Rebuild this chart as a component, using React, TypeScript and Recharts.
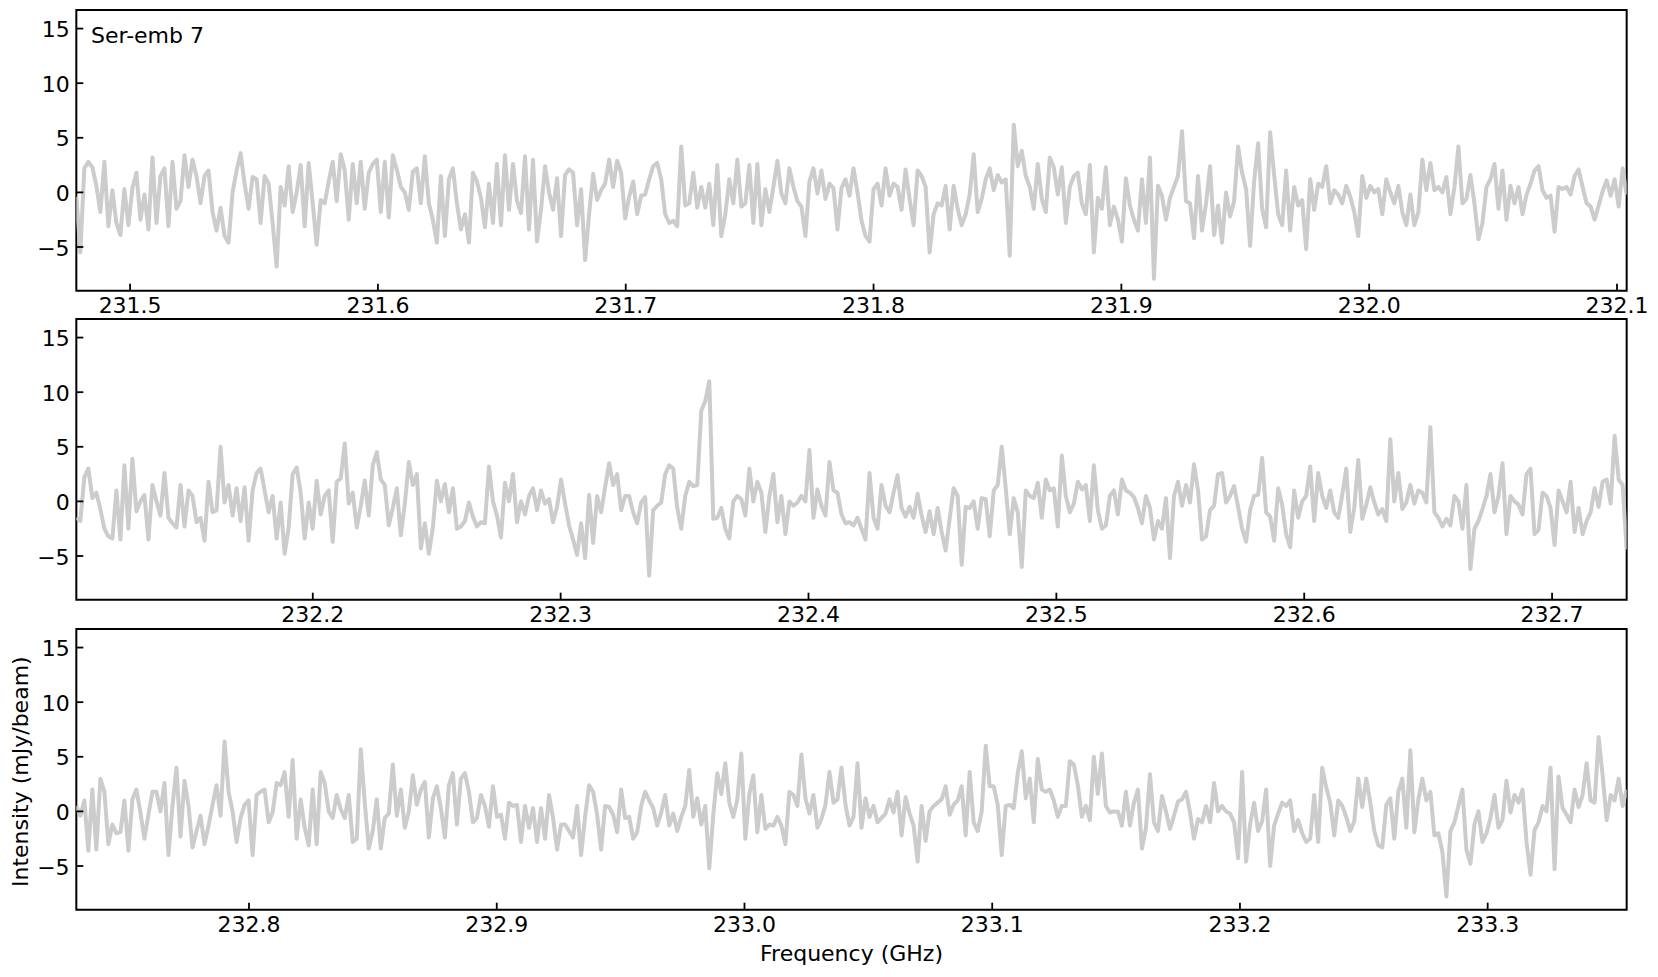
import React from 'react';
import { LineChart, Line, XAxis, YAxis, ReferenceArea } from 'recharts';

// Frequency ranges (GHz) of the three panels
const RANGE1 = [231.4783, 232.1039];
const RANGE2 = [232.1046, 232.7301];
const RANGE3 = [232.7303, 233.3561];

const TICKS1 = [231.5, 231.6, 231.7, 231.8, 231.9, 232.0, 232.1];
const TICKS2 = [232.2, 232.3, 232.4, 232.5, 232.6, 232.7];
const TICKS3 = [232.8, 232.9, 233.0, 233.1, 233.2, 233.3];

const Y_TICKS = [-5, 0, 5, 10, 15];
const Y_DOMAIN = [-9, 16.7];

// Intensity (mJy/beam), evenly spaced channels per panel
const PANEL1 = [
  -0.4, -5.5, 2.2, 2.8, 2.3, 0.6, -1.8, 2.8, -3.1, 0.2, -2.8, -3.9, 0.3, -3.0, 0.4, 1.8, -2.5, -0.2, -3.4, 3.2,
  -2.8, 1.5, 2.2, -3.1, 2.8, -1.5, -0.8, 3.4, 0.5, 3.0, 1.5, -1.0, 1.5, 2.0, -1.8, -3.5, -1.4, -4.0, -4.6, 0.0,
  2.0, 3.6, 0.8, -1.5, 1.4, 1.2, -2.8, 1.5, 0.8, -2.8, -6.8, 0.5, -1.2, 2.4, -1.8, 0.0, 2.5, -3.1, 2.7, -1.0,
  -4.8, -0.7, -1.0, 1.0, 2.8, -0.8, 3.5, 2.0, -2.5, 2.6, -1.0, 2.8, -1.5, 1.8, 2.6, 3.0, -1.8, 2.8, -2.3, 3.4,
  2.1, 0.5, 0.0, -1.6, 1.9, 2.2, -1.0, 3.3, -1.0, -2.5, -4.6, 1.5, -4.0, 1.2, 2.2, -1.0,
  -3.4, -2.0, -4.6, 1.8, 1.0, -0.5, -3.2, 0.8, -2.8, 2.6, -3.0, 3.4, -1.6, 2.6, -0.8, -1.9, 3.3, -3.4, 3.0, -4.5,
  -1.6, 2.4, 0.0, -1.6, 1.3, -4.0, 1.6, 2.1, 1.8, -3.0, 0.3, -6.2, -2.0, 1.7, -0.7, 0.2, 0.8, 3.0, 0.5, 2.9,
  1.8, -2.4, -0.4, 1.0, -2.0, -0.3, -0.2, 1.2, 2.4, 2.7, 1.2, -2.0, -2.8, -2.6, -3.1, 4.2, -1.2, -1.0, 1.8, -1.4,
  0.5, -1.4, 0.8, -3.0, 2.5, -4.0, -2.0, 1.2, -1.0, 3.0, -1.3, -1.0, 2.5, -2.8, 2.6, -3.0, 0.3, -1.8, 0.5, 2.9,
  -0.1, -1.0, 2.2, 0.5, -0.8, -1.3, -4.0, 1.0, 2.2, -0.1, 2.0, -0.6, 0.8, 0.4, -3.4, 0.4, 1.2, -0.3,
  2.2, 0.0, -2.6, -4.0, -4.5, 0.3, 0.8, -1.2, 2.2, -0.3, 0.8, 0.5, -1.6, 2.1, -0.6, -3.0, 2.0, 1.5, 0.5, -5.5,
  -2.0, -1.0, -1.2, 0.6, -3.4, 0.6, -1.5, -3.0, -2.0, -0.2, 3.5, -1.8, -0.6, 1.2, 2.2, 0.2, 1.6, 0.9, 1.2, -5.8,
  6.2, 2.4, 3.8, 1.5, 0.5, -1.5, 2.6, -0.6, -1.8, 3.2, 2.3, -0.2, 2.3, -2.8, 0.5, 1.5, 1.8, -1.0, -2.0, 2.5,
  -5.5, -0.5, -1.5, 2.3, -3.0, -1.3, -2.5, -4.5, 1.3, -1.2, -2.5, -3.5, 1.2, -2.8, 3.2, -7.9, 0.6, -0.3, -2.5, -0.5,
  0.5, 1.5, 5.6, -0.8, -1.0, -4.2, 1.5, -3.5, -1.0, 2.4, -3.9, -1.2, -4.6, 0.0, -2.2, -0.8, 4.2,
  1.8, 0.3, -4.9, 1.0, 4.5, -1.5, -3.2, 5.5, 1.6, -2.0, -3.0, 2.0, -3.5, 0.5, -1.2, -0.7, -5.2, 1.2, -1.6, 0.8,
  0.5, 2.4, -1.0, 0.2, -0.2, -1.0, 0.6, -0.4, -1.8, -4.0, 1.5, -0.5, 0.6, 0.0, 0.3, -2.0, 1.2, 0.0, -1.0, 0.6,
  -1.8, -3.0, -0.2, -3.0, -1.8, 3.0, 0.2, 2.7, 0.2, 0.5, 0.0, 1.4, -2.0, 0.5, 4.2, -1.0, -0.6, 1.6, -1.0, -4.3,
  -2.8, 0.5, 1.2, 2.6, -1.5, 2.0, -2.5, 0.6, -1.0, 0.5, -2.0, -0.2, 0.8, 2.0, 2.4, 0.2, -0.5, -0.3, -3.6, 0.5,
  0.3, 0.5, -0.2, 1.5, 2.1, 0.5, -1.0, -1.3, -2.5, -1.2, 0.1, 1.1, -0.3, 1.2, -1.3, 2.2, -0.2,
];

const PANEL2 = [
  -1.5, -1.8, 2.2, 3.0, 0.3, 0.8, -0.7, -2.5, -3.2, -3.4, 1.0, -3.5, 3.3, -2.5, 3.9, -0.9, 0.0, 0.6, -3.5, 1.5,
  0.0, -1.3, 2.6, -1.5, -2.0, -2.4, 1.5, -2.3, 1.0, 0.5, -1.9, -1.5, -3.6, 1.8, -1.0, -0.8, 5.0, -0.1, 1.5, -1.3,
  1.2, -1.8, 1.3, -3.6, 1.0, 2.6, 3.0, 1.0, -1.0, 0.5, -3.4, -0.1, -4.8, -2.4, 2.5, 3.1, 0.8, -3.4, -0.1, -2.5,
  1.9, -1.2, 0.5, 1.0, -3.7, 1.8, 2.1, 5.3, -0.2, 0.8, -2.4, -0.4, 1.9, -1.3, 3.3, 4.5, 2.0, 1.5, -2.2, -0.6,
  1.2, -3.1, -0.2, 3.6, 1.5, 2.5, -4.3, -2.0, -4.8, -2.4, 1.9, 0.0, 1.6, -1.0, 1.2, -2.5,
  -2.3, -1.8, -0.1, -1.4, -2.3, -1.9, -2.0, 3.2, 0.0, -1.3, -3.3, 1.7, 0.0, 2.5, -1.9, 0.0, -1.2, 0.5, 1.2, -0.8,
  1.0, -0.2, 0.2, -1.9, -0.5, 2.0, -0.2, -2.2, -3.5, -4.9, -2.0, -5.2, 0.6, -3.8, 0.5, -1.0, 1.3, 3.5, 1.5, 2.5,
  -0.8, 0.5, 0.5, -1.0, -2.0, -0.1, 0.4, -6.8, -0.8, -0.4, -0.1, 2.5, 3.3, 3.0, -0.6, -2.5, 0.5, 1.8, 1.4, 1.5,
  8.3, 9.2, 11.0, -1.6, -1.5, -0.6, -2.5, -3.4, 0.0, 0.5, 0.2, -1.3, 3.0, 0.0, 1.8, 0.8, -2.8, 0.5, 2.5, -1.9,
  0.5, -3.0, 0.0, -0.4, -0.1, 0.5, 0.0, 4.7, -1.5, 1.1, -0.4, -1.3, 3.6, 1.0, 0.8, -1.2, -2.0, -1.9,
  -2.2, -1.5, -2.5, -3.5, 2.6, -1.5, -2.5, 1.5, -0.4, -1.0, 0.8, 2.4, -0.6, -1.4, -0.5, -1.5, 0.7, -1.3, -2.8, -0.9,
  -3.0, -0.6, -2.8, -4.5, -1.6, 1.2, 0.5, -5.8, -0.5, -0.6, 0.0, -2.5, 0.3, 0.2, -3.2, 1.0, 1.5, 5.0, 1.2, -3.0,
  0.3, -1.0, -6.0, 1.0, 0.5, 0.3, 1.7, -1.5, 2.0, 1.0, 1.2, -2.3, 4.2, 0.5, -1.0, -0.2, 1.8, 1.1, 1.5, -1.8,
  3.3, -0.8, -2.5, -2.2, 0.5, 1.0, -1.2, 2.0, 1.0, 0.8, 0.4, -0.6, -2.0, 0.5, -0.6, -3.5, -1.8, -2.5, 0.3, -5.2,
  0.5, 1.8, -0.4, 1.5, -0.1, 3.4, 1.0, -3.5, -3.2, -0.8, -0.4, 2.5, 2.6, -0.1, 0.5, 1.4, -0.5,
  -2.5, -3.7, -0.8, 0.5, 0.6, 4.0, -1.0, -1.4, -3.6, 1.2, -0.3, -3.0, -4.2, 1.0, -1.5, 0.0, 0.5, 3.2, -1.8, 2.6,
  0.5, -0.6, 1.0, -1.0, -1.5, 0.6, 3.0, -2.8, -0.6, 3.8, -1.6, -0.3, 1.3, -0.1, -1.2, -0.7, -1.8, 5.7, 0.0, 2.6,
  -0.7, -0.1, 1.5, -0.2, 1.0, 0.8, -0.1, 6.8, -1.0, -1.5, -2.3, -1.6, -2.2, 0.5, 0.0, -2.5, 1.5, -6.2, -2.5, -1.8,
  -0.7, 0.5, 2.5, -1.0, 0.5, 3.5, -3.0, 0.5, 0.0, -0.3, -1.2, 2.5, 3.0, -3.0, -2.6, 0.8, 0.5, -0.6, -4.0, 1.0,
  0.0, -1.0, 1.8, -2.8, -0.6, -3.0, -1.8, -1.0, 1.2, -0.5, 1.8, 2.0, -0.2, 6.0, 2.0, 1.5, -4.4,
];

const PANEL3 = [
  0.5, -0.4, 1.0, -3.6, 2.0, -3.5, 3.0, 1.8, -3.0, -1.2, -2.0, -1.9, 1.0, -3.6, 1.1, 2.0, -0.1, -2.5, -0.3, 1.8,
  1.8, 0.0, 2.6, -4.0, 0.5, 4.0, -2.3, 2.8, 0.5, -3.3, -1.8, -0.4, -3.0, -1.3, 0.6, 2.4, -0.4, 6.4, 1.8, 0.0,
  -2.8, -0.6, 0.6, 1.0, -4.0, 1.5, 1.8, 2.0, -1.0, -0.1, 2.6, 2.4, 3.6, -0.5, 4.7, -2.5, 1.1, -1.5, -3.1, 2.0,
  -3.0, 3.6, 2.6, 0.0, -0.6, 1.5, 0.2, -0.6, 1.5, -2.8, -2.5, 5.7, 0.8, -3.4, -1.8, 1.1, -3.4, -0.6, -0.2, 4.3,
  -0.4, 2.0, -1.5, 0.0, 3.3, 0.6, 2.0, 2.7, -2.4, 1.2, 2.3, 0.3, -2.4, 2.4, 3.5, -1.2,
  3.0, 3.5, 1.8, -1.0, -0.6, 1.5, 0.5, -1.4, 2.3, -0.5, -0.3, -2.5, 0.8, 0.5, 0.6, -2.8, 0.5, -1.5, 0.3, -2.8,
  0.3, -2.5, 1.5, -0.6, -3.5, -1.2, -1.2, -1.8, -2.4, 0.5, -4.0, -0.5, 2.4, 1.8, -0.3, -3.5, 0.5, 0.4, -0.3, -1.9,
  2.0, -0.6, -0.5, -2.5, -1.9, 0.5, 1.8, 1.0, 0.3, -1.3, -0.1, 1.5, -1.3, -0.2, -1.8, -0.5, 0.5, 3.8, -0.5, 1.2,
  -1.2, 0.5, -5.2, -0.3, 3.5, 1.6, 4.4, 0.8, -0.5, 1.1, 5.3, -2.5, 1.6, 3.3, -1.9, 1.5, -1.6, -1.2, -1.3, -0.5,
  -1.3, -3.0, 1.8, 1.5, 0.5, 5.2, 1.2, -0.2, 1.5, -1.5, -0.7, 0.6, 3.6, 0.8, 1.1, 4.0, 0.6, -1.3,
  -0.5, 4.4, -1.5, 1.2, -0.5, 0.5, -1.0, -0.6, -0.2, 1.1, -0.1, 1.8, -2.2, 1.3, -0.2, -1.3, -4.6, 0.5, -2.7, 0.0,
  0.5, 0.8, 1.1, 2.3, -0.3, 0.6, 1.0, 2.3, -2.2, 3.6, -1.0, -1.8, 0.0, 6.0, 2.3, 2.3, 0.6, -4.0, 0.5, 0.6,
  0.3, 3.5, 5.5, 1.2, 3.0, -1.0, 4.8, 2.0, 1.8, 2.0, 1.0, -0.5, 0.5, 0.5, 4.6, 4.3, 2.4, -0.5, 0.5, -0.8,
  5.0, 1.6, 5.3, 0.5, -0.1, 0.0, 0.0, -1.3, 1.8, -1.3, 0.8, 2.0, -3.4, -1.5, 3.4, -1.0, -1.8, 1.4, 0.0, -1.6,
  -0.4, 0.9, 1.1, 1.8, -0.1, -2.5, -0.7, -1.0, 0.5, -1.0, 2.6, 0.0, 0.5, 0.0, -0.2, -1.0, -4.3,
  3.6, -4.6, -1.2, 0.8, -1.8, -0.9, 2.0, -5.0, -1.3, -0.2, 0.8, 0.5, 1.0, -1.8, -0.8, -2.0, -2.8, -2.5, 1.5, -2.8,
  4.0, 2.2, 0.8, -2.2, 1.0, 0.5, -0.5, -1.8, -0.9, 3.0, 0.4, 3.0, 0.8, -1.8, -3.1, -3.3, 0.6, 1.2, -2.5, 1.8,
  3.0, -1.5, 5.6, -1.9, 1.1, 3.0, 1.0, 1.8, -2.2, -2.0, -3.7, -7.8, -1.8, -1.0, 0.5, 2.0, -3.5, -4.8, -1.2, 0.0,
  -2.8, -2.0, -0.6, 1.5, -1.5, -0.8, 2.8, -0.1, 1.5, 0.8, 2.0, -2.8, -5.8, -1.7, -1.0, 0.5, 0.0, 4.0, -5.3, 3.2,
  0.3, -0.3, -1.0, 2.0, 0.4, 1.5, 4.4, 1.0, 0.8, 6.8, 3.3, -0.8, 1.5, 1.0, 3.0, 0.5, 2.0,
];

const FONT = '"DejaVu Sans", sans-serif';
const FS = 22;
const LEFT = 76.3;
const RIGHT_MARGIN = 1658 - 1626.7;
const PLOT_H = 280.7;
const TOP_M = 5;
const XAXIS_H = 35;

const buildData = (vals: number[], range: number[]) =>
  vals.map((v, i) => ({ f: range[0] + (i * (range[1] - range[0])) / (vals.length - 1), v }));

const XTick = (props: any) => {
  const { x, y, payload } = props;
  return (
    <g>
      <line x1={x} x2={x} y1={y} y2={y - 7} stroke="#000" strokeWidth={1.8} />
      <text x={x} y={y + 22.5} textAnchor="middle" fontSize={FS} fontFamily={FONT} fill="#000">
        {Number(payload.value).toFixed(1)}
      </text>
    </g>
  );
};

const YTick = (props: any) => {
  const { x, y, payload } = props;
  const v = Number(payload.value);
  const label = v < 0 ? '\u2212' + Math.abs(v) : String(v);
  return (
    <g>
      <line x1={x} x2={x + 7} y1={y} y2={y} stroke="#000" strokeWidth={1.8} />
      <text x={x - 6.7} y={y + 8.5} textAnchor="end" fontSize={FS} fontFamily={FONT} fill="#000">
        {label}
      </text>
    </g>
  );
};

const Panel = ({ vals, range, ticks, top }: { vals: number[]; range: number[]; ticks: number[]; top: number }) => {
  const data = buildData(vals, range);
  return (
    <div style={{ position: 'absolute', left: 0, top: top - TOP_M }}>
      <LineChart
        width={1658}
        height={PLOT_H + TOP_M + XAXIS_H}
        data={data}
        margin={{ top: TOP_M, right: RIGHT_MARGIN, left: 0, bottom: 0 }}
      >
        <XAxis
          dataKey="f"
          type="number"
          domain={range}
          ticks={ticks}
          interval={0}
          allowDataOverflow
          axisLine={false}
          tickLine={false}
          tickSize={0}
          tickMargin={0}
          height={XAXIS_H}
          tick={<XTick />}
        />
        <YAxis
          type="number"
          domain={Y_DOMAIN}
          ticks={Y_TICKS}
          interval={0}
          allowDataOverflow
          axisLine={false}
          tickLine={false}
          tickSize={0}
          tickMargin={0}
          width={LEFT}
          tick={<YTick />}
        />
        <Line
          type="linear"
          dataKey="v"
          stroke="#cccccc"
          strokeWidth={4}
          strokeLinejoin="round"
          dot={false}
          activeDot={false}
          isAnimationActive={false}
        />
        <ReferenceArea
          x1={range[0]}
          x2={range[1]}
          y1={Y_DOMAIN[0]}
          y2={Y_DOMAIN[1]}
          fill="none"
          fillOpacity={0}
          stroke="#000"
          strokeWidth={2}
          ifOverflow="visible"
        />
      </LineChart>
    </div>
  );
};

export default function App() {
  return (
    <div style={{ position: 'absolute', left: 0, top: 0, width: 1658, height: 977, background: '#fff', overflow: 'hidden' }}>
      <Panel vals={PANEL1} range={RANGE1} ticks={TICKS1} top={10.3} />
      <Panel vals={PANEL2} range={RANGE2} ticks={TICKS2} top={319.3} />
      <Panel vals={PANEL3} range={RANGE3} ticks={TICKS3} top={629.3} />
      <svg
        width={1658}
        height={977}
        style={{ position: 'absolute', left: 0, top: 0, pointerEvents: 'none' }}
      >
        <text x={91} y={42.5} fontSize={FS} fontFamily={FONT} fill="#000">Ser-emb 7</text>
        <text x={851.5} y={961} textAnchor="middle" fontSize={FS} fontFamily={FONT} fill="#000">
          Frequency (GHz)
        </text>
        <text
          x={28.3}
          y={771.7}
          textAnchor="middle"
          fontSize={FS}
          fontFamily={FONT}
          fill="#000"
          transform="rotate(-90, 28.3, 771.7)"
        >
          Intensity (mJy/beam)
        </text>
      </svg>
    </div>
  );
}
